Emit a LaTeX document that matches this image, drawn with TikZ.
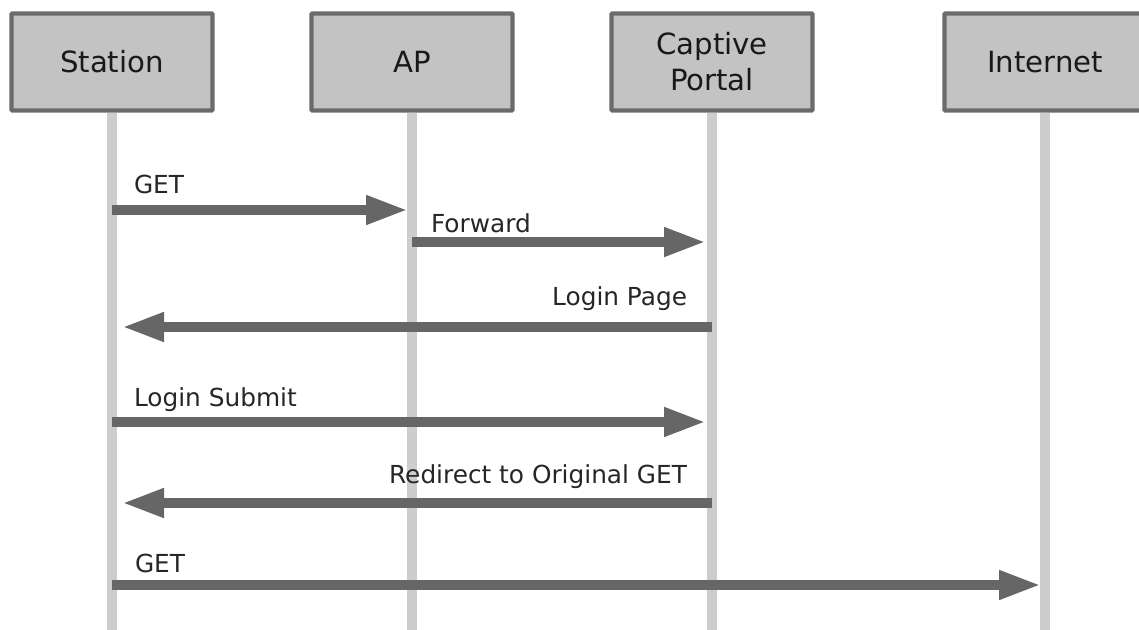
\documentclass[tikz,border=0pt]{standalone}
\usepackage{fontspec}
\setmainfont{DejaVu Sans}
\usepackage{xcolor}
\usetikzlibrary{arrows.meta}
\definecolor{boxfill}{HTML}{C3C3C3}
\definecolor{boxedge}{HTML}{6B6B6B}
\definecolor{lifegray}{HTML}{CDCDCD}
\definecolor{msggray}{HTML}{666666}
\tikzset{
actorbox/.style={rectangle, draw=boxedge, fill=boxfill, line width=2.2pt, rounded corners=0.5pt, inner sep=0pt, minimum width=100.5pt, minimum height=48.5pt, align=center, font=\fontsize{14.6}{18}\selectfont, text=black!90},
lifeline/.style={draw=lifegray, line width=5pt},
msgarrow/.style={draw=msggray, line width=5pt, -{Triangle[length=21pt,width=13.5pt]}},
msglabel/.style={pos=0, font=\fontsize{12.4}{15}\selectfont, text=black!85, inner sep=0pt},
}

\begin{document}
\begin{tikzpicture}[x=0.5pt,y=-0.5pt]
\useasboundingbox (0,0) rectangle (1139,630);
\clip (0,0) rectangle (1139,630);

\node[actorbox] at (112,62) (st) {Station};
\node[actorbox] at (412,62) (ap) {AP};
\node[actorbox] at (712,62) (cp) {Captive\\Portal};
\node[actorbox] at (1045,62) (net) {Internet};

\coordinate (st-end) at (112,635);
\coordinate (ap-end) at (412,635);
\coordinate (cp-end) at (712,635);
\coordinate (net-end) at (1045,635);

\draw[lifeline] (st.south) -- (st-end);
\draw[lifeline] (ap.south) -- (ap-end);
\draw[lifeline] (cp.south) -- (cp-end);
\draw[lifeline] (net.south) -- (net-end);

\draw[msgarrow, shorten >=2pt] (st |- 0,210) -- node[msglabel, anchor=base west, xshift=8.5pt, yshift=8pt] {GET} (ap |- 0,210);
\draw[msgarrow, shorten >=3pt] (ap |- 0,242) -- node[msglabel, anchor=base west, xshift=7pt, yshift=4.5pt] {Forward} (cp |- 0,242);
\draw[msgarrow, shorten >=5pt] (cp |- 0,327) -- node[msglabel, anchor=base east, xshift=-10pt, yshift=10.5pt] {Login Page} (st |- 0,327);
\draw[msgarrow, shorten >=3pt] (st |- 0,422) -- node[msglabel, anchor=base west, xshift=8.5pt, yshift=8pt] {Login Submit} (cp |- 0,422);
\draw[msgarrow, shorten >=5pt] (cp |- 0,503) -- node[msglabel, anchor=base east, xshift=-10pt, yshift=10pt] {Redirect to Original GET} (st |- 0,503);
\draw[msgarrow, shorten >=2pt] (st |- 0,585) -- node[msglabel, anchor=base west, xshift=9pt, yshift=6.5pt] {GET} (net |- 0,585);

\end{tikzpicture}
\end{document}
